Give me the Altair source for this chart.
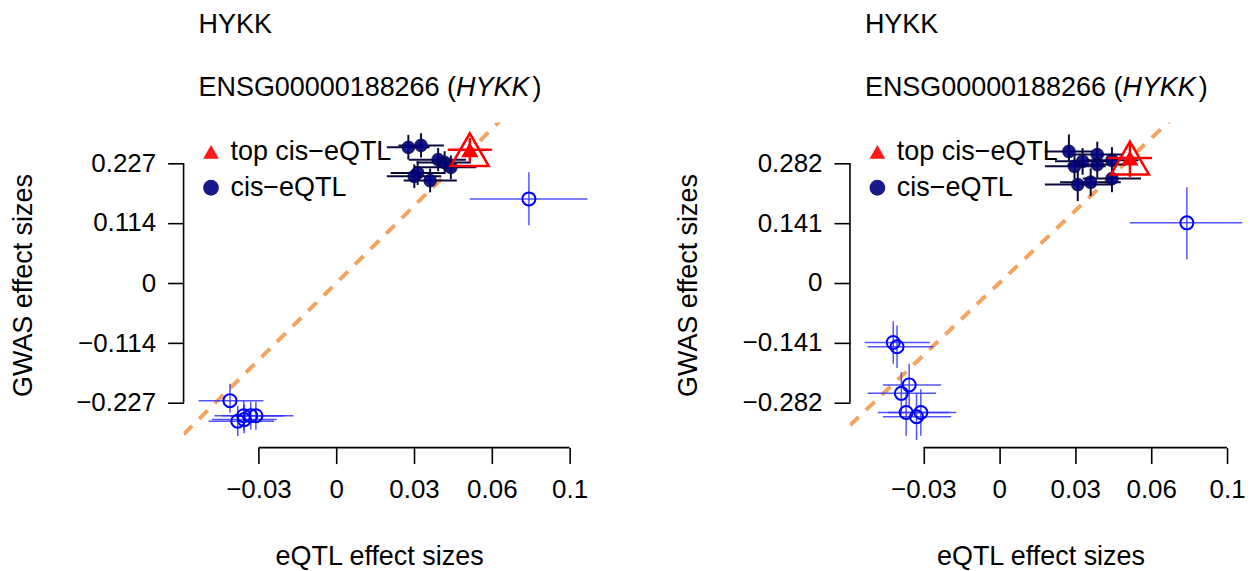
import json
import altair as alt
import pandas as pd

FONT = "Liberation Sans"
FS = 27       # titles, legend
FS_TICK = 26  # tick labels

GENE = "HYKK"
ENSG = "ENSG00000188266"
LEG_TOP = "top cis\u2212eQTL"
LEG_CIS = "cis\u2212eQTL"
XTITLE = "eQTL effect sizes"
YTITLE = "GWAS effect sizes"

# ---------------- left panel ----------------
L_xticks = [-0.03, 0, 0.03, 0.06, 0.09]
L_xlabels = ["\u22120.03", "0", "0.03", "0.06", "0.1"]
L_yticks = [-0.227, -0.114, 0, 0.114, 0.227]
L_ylabels = ["\u22120.227", "\u22120.114", "0", "0.114", "0.227"]
L_xdomain = [-0.0589, 0.1031]
L_ydomain = [-0.3121, 0.3046]
L_slope = 4.87

L_top_x = [0.0515]; L_top_y = [0.2529]
L_top_xlo = [0.0430]; L_top_xhi = [0.0600]
L_top_ylo = [0.2300]; L_top_yhi = [0.2750]

L_cis_x = [0.0278, 0.0327, 0.0393, 0.0418, 0.0442, 0.0301, 0.0314, 0.0362]
L_cis_y = [0.2573, 0.2610, 0.2340, 0.2285, 0.2194, 0.2024, 0.2087, 0.1943]
L_cis_xlo = [0.0195, 0.0240, 0.0280, 0.0310, 0.0300, 0.0195, 0.0210, 0.0260]
L_cis_xhi = [0.0360, 0.0415, 0.0500, 0.0520, 0.0540, 0.0405, 0.0420, 0.0465]
L_cis_ylo = [0.2340, 0.2380, 0.2120, 0.2070, 0.1970, 0.1800, 0.1860, 0.1720]
L_cis_yhi = [0.2810, 0.2840, 0.2560, 0.2500, 0.2420, 0.2250, 0.2310, 0.2170]

L_ns_x = [-0.0410, -0.0380, -0.0357, -0.0330, -0.0310, -0.0355, 0.0743]
L_ns_y = [-0.2230, -0.2620, -0.2516, -0.2516, -0.2516, -0.2590, 0.1595]
L_ns_xlo = [-0.0531, -0.0492, -0.0470, -0.0440, -0.0410, -0.0480, 0.0515]
L_ns_xhi = [-0.0281, -0.0240, -0.0210, -0.0200, -0.0165, -0.0230, 0.0969]
L_ns_ylo = [-0.2460, -0.2900, -0.2800, -0.2780, -0.2780, -0.2850, 0.1097]
L_ns_yhi = [-0.1910, -0.2330, -0.2230, -0.2250, -0.2250, -0.2300, 0.2100]

# ---------------- right panel ----------------
R_xticks = [-0.03, 0, 0.03, 0.06, 0.09]
R_xlabels = ["\u22120.03", "0", "0.03", "0.06", "0.1"]
R_yticks = [-0.282, -0.141, 0, 0.141, 0.282]
R_ylabels = ["\u22120.282", "\u22120.141", "0", "0.141", "0.282"]
R_xdomain = [-0.0590, 0.0947]
R_ydomain = [-0.3878, 0.3784]
R_slope = 5.68

R_top_x = [0.0516]; R_top_y = [0.2945]
R_top_xlo = [0.0430]; R_top_xhi = [0.0603]
R_top_ylo = [0.2500]; R_top_yhi = [0.3300]

R_cis_x = [0.0275, 0.0297, 0.0329, 0.0387, 0.0387, 0.0310, 0.0361, 0.0445, 0.0445]
R_cis_y = [0.3100, 0.2750, 0.2867, 0.3025, 0.2790, 0.2320, 0.2374, 0.2460, 0.2890]
R_cis_xlo = [0.0180, 0.0180, 0.0220, 0.0280, 0.0270, 0.0180, 0.0240, 0.0330, 0.0340]
R_cis_xhi = [0.0370, 0.0420, 0.0440, 0.0490, 0.0500, 0.0450, 0.0480, 0.0560, 0.0550]
R_cis_ylo = [0.2880, 0.2450, 0.2550, 0.2720, 0.2480, 0.1930, 0.2050, 0.2140, 0.2600]
R_cis_yhi = [0.3500, 0.3050, 0.3180, 0.3330, 0.3100, 0.2650, 0.2700, 0.2780, 0.3200]

R_ns_x = [-0.0419, -0.0404, -0.0356, -0.0387, -0.0368, -0.0327, -0.0310, 0.0741]
R_ns_y = [-0.1400, -0.1500, -0.2400, -0.2600, -0.3050, -0.3150, -0.3050, 0.1417]
R_ns_xlo = [-0.0532, -0.0520, -0.0460, -0.0520, -0.0480, -0.0460, -0.0440, 0.0516]
R_ns_xhi = [-0.0275, -0.0260, -0.0230, -0.0250, -0.0200, -0.0190, -0.0170, 0.0960]
R_ns_ylo = [-0.1900, -0.2000, -0.2900, -0.3100, -0.3600, -0.3700, -0.3600, 0.0557]
R_ns_yhi = [-0.0900, -0.1000, -0.1900, -0.2100, -0.2500, -0.2600, -0.2500, 0.2256]

# ---------------- styling ----------------
RED = "#FF0000"
NAVY = "#000080"
NAVY_BAR = "#0a0a40"
BLUE = "#0000FF"
BLUE_BAR = "#3535ff"
ABLINE = "#F4A460"

CW = {'E': 667, 'N': 722, 'S': 667, 'G': 778, '0': 556, '1': 556, '2': 556,
      '6': 556, '8': 556, ' ': 278, '(': 333, 'H': 722, 'Y': 667, 'K': 667, ')': 333}


def tw(s):
    return sum(CW.get(c, 556) for c in s) * FS / 1000.0


def label_expr(vals, labs):
    return "%s[indexof(%s, datum.value)]" % (json.dumps(labs, ensure_ascii=False), json.dumps(vals))


def panel(xticks, xlabels, yticks, ylabels, xdom, ydom, slope, width, height,
          top, cis, ns, xtitle_x, ytitle_x):
    xs = alt.Scale(domain=xdom, nice=False, zero=False)
    ys = alt.Scale(domain=ydom, nice=False, zero=False)

    xaxis = alt.Axis(values=xticks, labelExpr=label_expr(xticks, xlabels), domain=False,
                     grid=False, tickSize=16, tickWidth=1.6, tickColor="black",
                     labelFont=FONT, labelFontSize=FS_TICK, labelColor="black", labelPadding=13,
                     labelFlush=False, labelOverlap=False,
                     title=XTITLE, titleFont=FONT, titleFontSize=FS, titleFontWeight="normal",
                     titleColor="black", titleX=xtitle_x, titleY=109, titleBaseline="middle")
    yaxis = alt.Axis(values=yticks, labelExpr=label_expr(yticks, ylabels), domain=False,
                     grid=False, tickSize=16, tickWidth=1.6, tickColor="black",
                     labelFont=FONT, labelFontSize=FS_TICK, labelColor="black", labelPadding=12,
                     labelAngle=0, labelFlush=False, labelOverlap=False,
                     title=YTITLE, titleFont=FONT, titleFontSize=FS, titleFontWeight="normal",
                     titleColor="black", titleX=ytitle_x, titleBaseline="middle")

    # axis lines spanning first..last tick (R style)
    xline = alt.Chart(pd.DataFrame({"a": [xticks[0]], "b": [xticks[-1]]})).mark_rule(
        color="black", strokeWidth=1.6).encode(
        x=alt.X("a:Q", scale=xs, axis=xaxis), x2="b:Q", y=alt.value(height))
    yline = alt.Chart(pd.DataFrame({"c": [yticks[0]], "d": [yticks[-1]]})).mark_rule(
        color="black", strokeWidth=1.6).encode(
        y=alt.Y("c:Q", scale=ys, axis=yaxis), y2="d:Q", x=alt.value(0))

    ab = pd.DataFrame({"x": xdom, "y": [slope * v for v in xdom]})
    abline = alt.Chart(ab).mark_line(clip=True, color=ABLINE, strokeWidth=4,
                                     strokeDash=[12, 10]).encode(
        x=alt.X("x:Q", scale=xs), y=alt.Y("y:Q", scale=ys))

    def bars(df, color, sw, op):
        h = alt.Chart(df).mark_rule(color=color, strokeWidth=sw, opacity=op).encode(
            x=alt.X("xlo:Q", scale=xs), x2="xhi:Q", y=alt.Y("y:Q", scale=ys))
        v = alt.Chart(df).mark_rule(color=color, strokeWidth=sw, opacity=op).encode(
            x=alt.X("x:Q", scale=xs), y=alt.Y("ylo:Q", scale=ys), y2="yhi:Q")
        return [h, v]

    cols = ["x", "y", "xlo", "xhi", "ylo", "yhi"]
    ns_df = pd.DataFrame(dict(zip(cols, ns)))
    cis_df = pd.DataFrame(dict(zip(cols, cis)))
    cis_df["type"] = LEG_CIS
    top_df = pd.DataFrame(dict(zip(cols, top)))
    top_df["type"] = LEG_TOP

    ns_pts = alt.Chart(ns_df).mark_point(shape="circle", filled=False, size=170,
                                         color=BLUE, strokeWidth=2, opacity=1).encode(
        x=alt.X("x:Q", scale=xs), y=alt.Y("y:Q", scale=ys))

    leg = alt.Legend(title=None, orient="none", legendX=14, legendY=16, padding=0,
                     labelFont=FONT, labelFontSize=FS, labelColor="black", labelLimit=400,
                     symbolSize=250, symbolStrokeWidth=0, rowPadding=8, labelOffset=6)
    cscale = alt.Scale(domain=[LEG_TOP, LEG_CIS], range=[RED, NAVY])
    sscale = alt.Scale(domain=[LEG_TOP, LEG_CIS], range=["triangle-up", "circle"])

    cis_pts = alt.Chart(cis_df).mark_point(filled=True, size=160, opacity=0.9).encode(
        x=alt.X("x:Q", scale=xs), y=alt.Y("y:Q", scale=ys),
        color=alt.Color("type:N", scale=cscale, legend=leg),
        shape=alt.Shape("type:N", scale=sscale, legend=leg))
    cis_ring = alt.Chart(cis_df).mark_point(shape="circle", filled=False, size=160,
                                            color=NAVY_BAR, strokeWidth=1.2).encode(
        x=alt.X("x:Q", scale=xs), y=alt.Y("y:Q", scale=ys))

    top_outer = alt.Chart(top_df).mark_point(shape="triangle-up", filled=False, size=1444,
                                             color=RED, strokeWidth=2.5, opacity=1).encode(
        x=alt.X("x:Q", scale=xs), y=alt.Y("y:Q", scale=ys))
    top_inner = alt.Chart(top_df).mark_point(filled=True, size=300, opacity=1).encode(
        x=alt.X("x:Q", scale=xs), y=alt.Y("y:Q", scale=ys),
        color=alt.Color("type:N", scale=cscale, legend=leg),
        shape=alt.Shape("type:N", scale=sscale, legend=leg))

    tdf = pd.DataFrame({"gene": [GENE], "ensg": [ENSG + " ("], "close": [")"]})
    tx = 15
    ty1, ty2 = -90, -26
    base = dict(align="left", baseline="alphabetic", font=FONT, fontSize=FS, color="black")
    t1 = alt.Chart(tdf).mark_text(**base).encode(
        x=alt.value(tx), y=alt.value(ty1), text="gene:N")
    t2 = alt.Chart(tdf).mark_text(**base).encode(
        x=alt.value(tx), y=alt.value(ty2), text="ensg:N")
    t3 = alt.Chart(tdf).mark_text(fontStyle="italic", **base).encode(
        x=alt.value(tx + tw(ENSG + " (")), y=alt.value(ty2), text="gene:N")
    t4 = alt.Chart(tdf).mark_text(**base).encode(
        x=alt.value(tx + tw(ENSG + " (") + tw(GENE) + 3), y=alt.value(ty2), text="close:N")

    layers = [xline, yline, abline] + bars(ns_df, BLUE_BAR, 1.5, 0.85) + [ns_pts] \
        + bars(cis_df, NAVY_BAR, 2, 1) + [cis_pts, cis_ring] \
        + bars(top_df, RED, 2.5, 1) + [top_outer, top_inner, t1, t2, t3, t4]
    return alt.layer(*layers).properties(width=width, height=height)


left = panel(L_xticks, L_xlabels, L_yticks, L_ylabels, L_xdomain, L_ydomain, L_slope, 421, 326,
             [L_top_x, L_top_y, L_top_xlo, L_top_xhi, L_top_ylo, L_top_yhi],
             [L_cis_x, L_cis_y, L_cis_xlo, L_cis_xhi, L_cis_ylo, L_cis_yhi],
             [L_ns_x, L_ns_y, L_ns_xlo, L_ns_xhi, L_ns_ylo, L_ns_yhi], 196, -160)
right = panel(R_xticks, R_xlabels, R_yticks, R_ylabels, R_xdomain, R_ydomain, R_slope, 390, 326,
              [R_top_x, R_top_y, R_top_xlo, R_top_xhi, R_top_ylo, R_top_yhi],
              [R_cis_x, R_cis_y, R_cis_xlo, R_cis_xhi, R_cis_ylo, R_cis_yhi],
              [R_ns_x, R_ns_y, R_ns_xlo, R_ns_xhi, R_ns_ylo, R_ns_yhi], 191, -162)

chart = alt.hconcat(left, right, spacing=70).resolve_scale(
    x="independent", y="independent", color="independent", shape="independent"
).resolve_legend(color="independent", shape="independent").properties(
    padding={"left": 1, "top": 2, "right": 0, "bottom": 0}, background="white"
).configure_view(stroke="transparent", strokeWidth=0)

chart.save("out.html", embed_options={"renderer": "svg", "actions": False})
